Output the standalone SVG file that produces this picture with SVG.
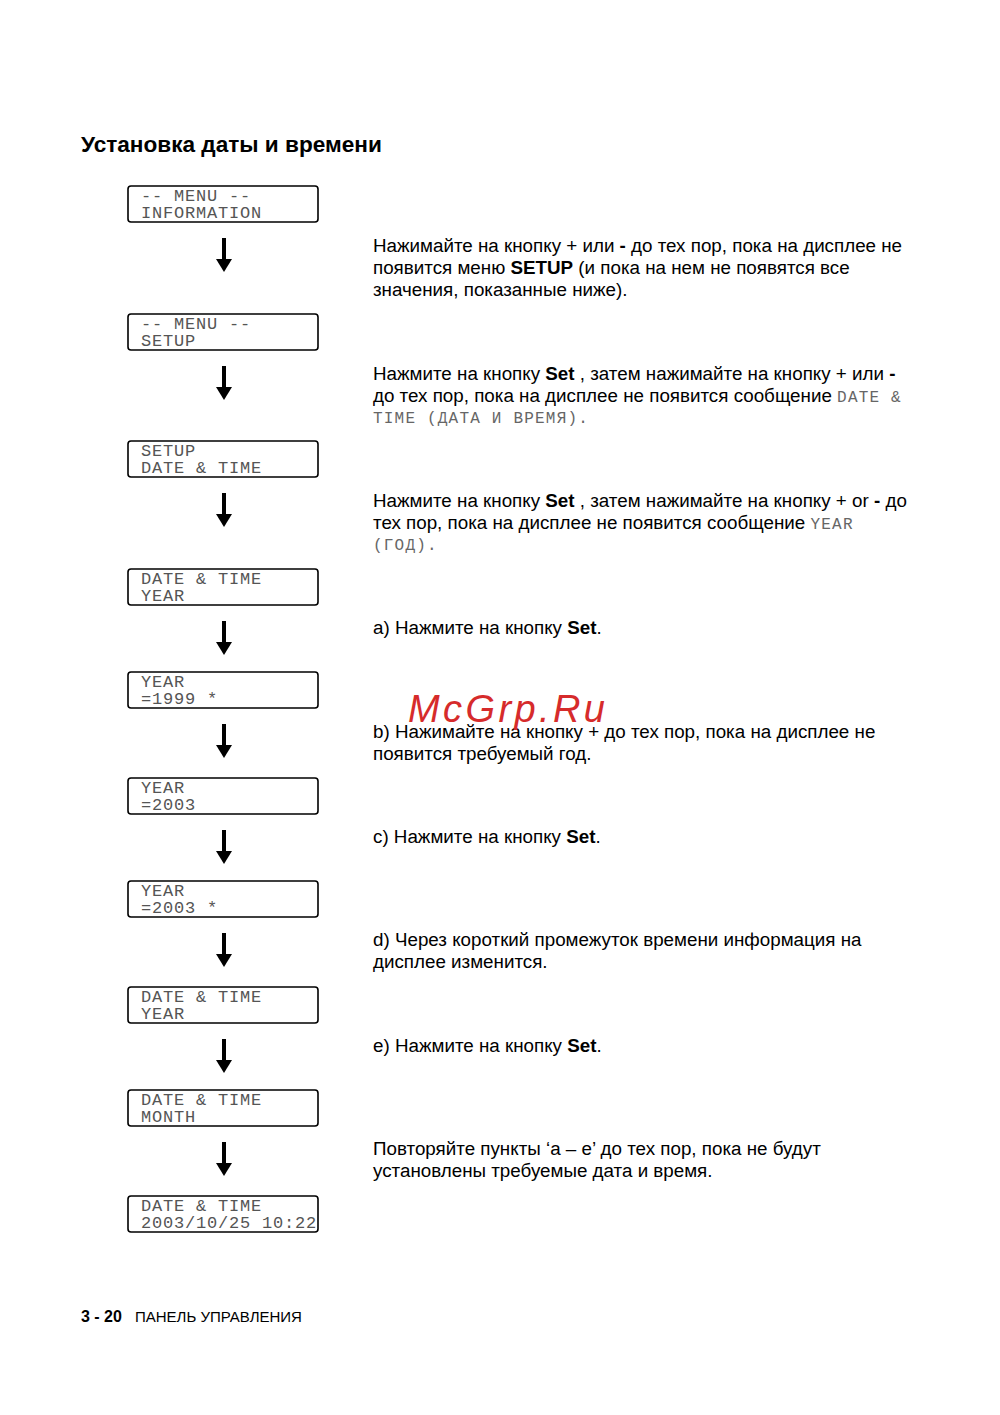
<svg xmlns="http://www.w3.org/2000/svg" width="1000" height="1415" viewBox="0 0 1000 1415">
<style>
.box{fill:#fff;stroke:#000;stroke-width:1.6}
.lcd{font-family:"Liberation Mono","DejaVu Sans Mono",monospace;font-size:17px;fill:#555;letter-spacing:0.8px}
.t{font-family:"Liberation Sans",Arial,sans-serif;font-size:18.8px;fill:#000}
.b{font-weight:bold}
.m{font-family:"Liberation Mono","DejaVu Sans Mono",monospace;font-size:16px;fill:#666;letter-spacing:1.2px}
.title{font-family:"Liberation Sans",Arial,sans-serif;font-size:22.6px;font-weight:bold;fill:#000}
.foot{font-family:"Liberation Sans",Arial,sans-serif;font-size:15px;fill:#000}
.fb{font-weight:bold;font-size:16px}
.wm{font-family:"Liberation Sans",Arial,sans-serif;font-size:38px;font-style:italic;fill:#d62b2b;letter-spacing:3.4px}
</style>
<defs>
<g id="arr"><rect x="-2" y="0" width="4" height="24" fill="#000"/><polygon points="-8,21 8,21 0,34" fill="#000"/></g>
</defs>
<rect width="1000" height="1415" fill="#fff"/>
<text class="title" x="81" y="152">Установка даты и времени</text>

<g id="n1"><rect class="box" x="128" y="186" width="190" height="36" rx="3"/><text class="lcd" x="141" y="201">-- MENU --</text><text class="lcd" x="141" y="218">INFORMATION</text></g>
<g id="n2"><rect class="box" x="128" y="314" width="190" height="36" rx="3"/><text class="lcd" x="141" y="329">-- MENU --</text><text class="lcd" x="141" y="346">SETUP</text></g>
<g id="n3"><rect class="box" x="128" y="441" width="190" height="36" rx="3"/><text class="lcd" x="141" y="456">SETUP</text><text class="lcd" x="141" y="473">DATE &amp; TIME</text></g>
<g id="n4"><rect class="box" x="128" y="569" width="190" height="36" rx="3"/><text class="lcd" x="141" y="584">DATE &amp; TIME</text><text class="lcd" x="141" y="601">YEAR</text></g>
<g id="n5"><rect class="box" x="128" y="672" width="190" height="36" rx="3"/><text class="lcd" x="141" y="687">YEAR</text><text class="lcd" x="141" y="704">=1999 *</text></g>
<g id="n6"><rect class="box" x="128" y="778" width="190" height="36" rx="3"/><text class="lcd" x="141" y="793">YEAR</text><text class="lcd" x="141" y="810">=2003</text></g>
<g id="n7"><rect class="box" x="128" y="881" width="190" height="36" rx="3"/><text class="lcd" x="141" y="896">YEAR</text><text class="lcd" x="141" y="913">=2003 *</text></g>
<g id="n8"><rect class="box" x="128" y="987" width="190" height="36" rx="3"/><text class="lcd" x="141" y="1002">DATE &amp; TIME</text><text class="lcd" x="141" y="1019">YEAR</text></g>
<g id="n9"><rect class="box" x="128" y="1090" width="190" height="36" rx="3"/><text class="lcd" x="141" y="1105">DATE &amp; TIME</text><text class="lcd" x="141" y="1122">MONTH</text></g>
<g id="n10"><rect class="box" x="128" y="1196" width="190" height="36" rx="3"/><text class="lcd" x="141" y="1211">DATE &amp; TIME</text><text class="lcd" x="141" y="1228">2003/10/25 10:22</text></g>

<g id="connectors">
<use href="#arr" x="224" y="238"/>
<use href="#arr" x="224" y="366"/>
<use href="#arr" x="224" y="493"/>
<use href="#arr" x="224" y="621"/>
<use href="#arr" x="224" y="724"/>
<use href="#arr" x="224" y="830"/>
<use href="#arr" x="224" y="933"/>
<use href="#arr" x="224" y="1039"/>
<use href="#arr" x="224" y="1142"/>
</g>

<g id="texts">
<text class="t" x="373" y="252">Нажимайте на кнопку + или <tspan class="b">-</tspan> до тех пор, пока на дисплее не</text>
<text class="t" x="373" y="274">появится меню <tspan class="b">SETUP</tspan> (и пока на нем не появятся все</text>
<text class="t" x="373" y="296">значения, показанные ниже).</text>

<text class="t" x="373" y="380">Нажмите на кнопку <tspan class="b">Set</tspan> , затем нажимайте на кнопку + или <tspan class="b">-</tspan></text>
<text class="t" x="373" y="402">до тех пор, пока на дисплее не появится сообщение <tspan class="m">DATE &amp;</tspan></text>
<text class="m" x="373" y="423">TIME (ДАТА И ВРЕМЯ).</text>

<text class="t" x="373" y="507">Нажмите на кнопку <tspan class="b">Set</tspan> , затем нажимайте на кнопку + or <tspan class="b">-</tspan> до</text>
<text class="t" x="373" y="529">тех пор, пока на дисплее не появится сообщение <tspan class="m">YEAR</tspan></text>
<text class="m" x="373" y="550">(ГОД).</text>

<text class="t" x="373" y="634">a) Нажмите на кнопку <tspan class="b">Set</tspan>.</text>
<text class="t" x="373" y="738">b) Нажимайте на кнопку + до тех пор, пока на дисплее не</text>
<text class="t" x="373" y="760">появится требуемый год.</text>
<text class="t" x="373" y="843">c) Нажмите на кнопку <tspan class="b">Set</tspan>.</text>
<text class="t" x="373" y="946">d) Через короткий промежуток времени информация на</text>
<text class="t" x="373" y="968">дисплее изменится.</text>
<text class="t" x="373" y="1052">e) Нажмите на кнопку <tspan class="b">Set</tspan>.</text>
<text class="t" x="373" y="1155">Повторяйте пункты ‘a – e’ до тех пор, пока не будут</text>
<text class="t" x="373" y="1177">установлены требуемые дата и время.</text>
</g>

<text class="wm" x="408" y="722">McGrp.Ru</text>

<text class="foot" x="81" y="1322"><tspan class="fb">3 - 20</tspan><tspan x="135">ПАНЕЛЬ УПРАВЛЕНИЯ</tspan></text>
</svg>
